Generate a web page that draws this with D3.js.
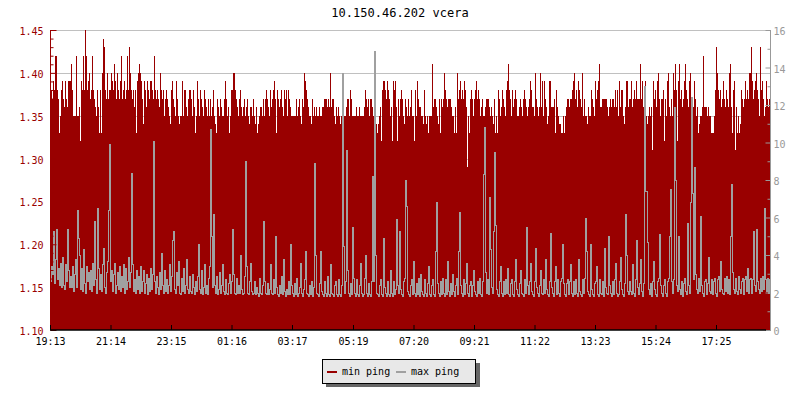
<!DOCTYPE html>
<html><head><meta charset="utf-8">
<script src="https://cdn.jsdelivr.net/npm/d3@7"></script>
<style>body{margin:0;background:#fff}svg{display:block}</style>
</head><body><svg id="c" width="800" height="400"></svg>
<script>
const title = "10.150.46.202 vcera";
const startTime = "2000-01-01T19:13:00";
const stepMinutes = 2;
const xTickLabels = ["19:13","21:14","23:15","01:16","03:17","05:19","07:20","09:21","11:22","13:23","15:24","17:25"];
const leftTicks = [1.10,1.15,1.20,1.25,1.30,1.35,1.40,1.45];
const leftMinorTicks = [1.11,1.12,1.13,1.14,1.16,1.17,1.18,1.19,1.21,1.22,1.23,1.24,1.26,1.27,1.28,1.29,1.31,1.32,1.33,1.34,1.36,1.37,1.38,1.39,1.41,1.42,1.43,1.44];
const rightTicks = [0,2,4,6,8,10,12,14,16];
const rightMinorTicks = [1,3,5,7,9,11,13,15];
const seriesNames = ["min ping","max ping"];

const minPing = [
1.36,1.38,1.37,1.39,1.38,1.42,1.42,1.38,1.37,1.33,1.35,1.38,1.39,1.37,1.36,1.39,1.37,1.36,1.39,1.39,
1.39,1.41,1.38,1.35,1.35,1.35,1.42,1.35,1.35,1.36,1.32,1.39,1.38,1.42,1.38,1.45,1.42,1.38,1.39,1.40,
1.37,1.38,1.42,1.38,1.37,1.36,1.35,1.38,1.36,1.33,1.38,1.33,1.40,1.44,1.43,1.38,1.37,1.40,1.37,1.38,
1.38,1.40,1.39,1.38,1.41,1.39,1.37,1.40,1.38,1.37,1.39,1.42,1.37,1.38,1.39,1.37,1.38,1.42,1.38,1.43,
1.40,1.38,1.37,1.38,1.36,1.38,1.33,1.39,1.40,1.41,1.40,1.39,1.37,1.34,1.39,1.38,1.36,1.39,1.38,1.37,
1.39,1.39,1.38,1.37,1.42,1.38,1.37,1.38,1.37,1.36,1.40,1.38,1.37,1.38,1.35,1.37,1.38,1.37,1.36,1.35,
1.34,1.38,1.39,1.37,1.36,1.35,1.39,1.37,1.35,1.34,1.35,1.35,1.39,1.35,1.38,1.38,1.36,1.35,1.37,1.38,
1.38,1.37,1.35,1.38,1.36,1.33,1.35,1.39,1.37,1.35,1.38,1.37,1.36,1.35,1.38,1.37,1.36,1.35,1.37,1.35,
1.37,1.35,1.36,1.38,1.35,1.34,1.33,1.37,1.36,1.35,1.37,1.36,1.35,1.35,1.37,1.39,1.37,1.35,1.36,1.33,
1.35,1.38,1.38,1.40,1.40,1.38,1.37,1.36,1.35,1.37,1.38,1.36,1.35,1.36,1.37,1.35,1.36,1.37,1.35,1.34,
1.36,1.36,1.35,1.37,1.35,1.34,1.36,1.33,1.34,1.35,1.36,1.36,1.35,1.37,1.35,1.37,1.38,1.37,1.36,1.35,
1.38,1.36,1.37,1.38,1.39,1.37,1.33,1.38,1.37,1.36,1.37,1.38,1.36,1.35,1.38,1.37,1.38,1.35,1.38,1.37,
1.36,1.35,1.35,1.35,1.35,1.35,1.37,1.35,1.36,1.37,1.35,1.34,1.37,1.36,1.40,1.39,1.38,1.37,1.36,1.35,
1.35,1.34,1.37,1.35,1.36,1.35,1.36,1.35,1.35,1.36,1.35,1.35,1.36,1.36,1.37,1.37,1.37,1.36,1.37,1.36,
1.40,1.36,1.37,1.37,1.35,1.34,1.36,1.35,1.36,1.35,1.34,1.35,1.32,1.35,1.35,1.35,1.36,1.37,1.37,1.35,
1.38,1.37,1.35,1.35,1.35,1.35,1.36,1.35,1.35,1.36,1.35,1.35,1.35,1.35,1.36,1.38,1.37,1.36,1.37,1.35,
1.37,1.37,1.36,1.35,1.36,1.35,1.34,1.33,1.34,1.35,1.36,1.32,1.38,1.39,1.39,1.38,1.37,1.39,1.38,1.37,
1.35,1.36,1.32,1.39,1.38,1.39,1.36,1.32,1.37,1.35,1.37,1.38,1.37,1.35,1.34,1.37,1.36,1.35,1.37,1.35,
1.36,1.38,1.35,1.35,1.32,1.38,1.35,1.39,1.37,1.36,1.36,1.35,1.35,1.34,1.38,1.35,1.34,1.35,1.33,1.35,
1.35,1.35,1.41,1.36,1.37,1.37,1.36,1.35,1.34,1.37,1.33,1.37,1.36,1.37,1.40,1.38,1.37,1.36,1.37,1.37,
1.37,1.36,1.35,1.35,1.33,1.36,1.33,1.40,1.37,1.38,1.39,1.37,1.38,1.37,1.39,1.38,1.36,1.29,1.35,1.33,
1.37,1.38,1.37,1.35,1.37,1.38,1.39,1.37,1.38,1.37,1.35,1.36,1.37,1.35,1.35,1.36,1.37,1.37,1.37,1.36,
1.35,1.36,1.35,1.34,1.37,1.33,1.35,1.33,1.38,1.37,1.35,1.36,1.38,1.37,1.36,1.35,1.38,1.39,1.41,1.38,
1.37,1.35,1.38,1.36,1.37,1.38,1.37,1.35,1.35,1.36,1.37,1.36,1.35,1.37,1.38,1.37,1.36,1.35,1.36,1.37,
1.39,1.38,1.36,1.36,1.35,1.40,1.37,1.36,1.35,1.36,1.40,1.36,1.39,1.35,1.39,1.37,1.36,1.34,1.35,1.39,
1.39,1.36,1.36,1.36,1.37,1.33,1.38,1.36,1.35,1.34,1.34,1.33,1.33,1.35,1.33,1.35,1.36,1.37,1.37,1.36,
1.37,1.37,1.38,1.39,1.40,1.37,1.38,1.36,1.39,1.38,1.37,1.36,1.40,1.35,1.37,1.35,1.35,1.34,1.36,1.35,
1.35,1.38,1.37,1.36,1.35,1.39,1.37,1.38,1.39,1.41,1.36,1.36,1.37,1.37,1.37,1.37,1.37,1.36,1.35,1.36,
1.37,1.36,1.37,1.37,1.36,1.38,1.36,1.38,1.35,1.39,1.36,1.38,1.38,1.35,1.34,1.36,1.39,1.39,1.36,1.37,
1.37,1.39,1.36,1.37,1.38,1.37,1.39,1.37,1.37,1.37,1.41,1.37,1.39,1.36,1.35,1.39,1.35,1.34,1.35,1.36,
1.35,1.36,1.31,1.39,1.37,1.38,1.36,1.39,1.40,1.37,1.35,1.37,1.37,1.38,1.32,1.37,1.35,1.39,1.40,1.36,
1.35,1.37,1.35,1.40,1.38,1.41,1.38,1.32,1.39,1.41,1.37,1.38,1.36,1.37,1.39,1.41,1.38,1.37,1.36,1.39,
1.40,1.37,1.35,1.36,1.39,1.37,1.35,1.36,1.33,1.34,1.35,1.35,1.36,1.42,1.36,1.36,1.36,1.35,1.36,1.35,
1.35,1.33,1.33,1.33,1.35,1.38,1.43,1.40,1.38,1.37,1.38,1.36,1.37,1.39,1.37,1.36,1.38,1.37,1.36,1.40,
1.41,1.36,1.33,1.38,1.39,1.31,1.36,1.33,1.35,1.33,1.34,1.38,1.37,1.36,1.37,1.39,1.37,1.38,1.37,1.40,
1.40,1.43,1.39,1.37,1.38,1.39,1.40,1.38,1.37,1.35,1.43,1.38,1.39,1.37,1.35,1.36,1.39,1.37,1.36,1.37
];

const maxPing = [
2.6,3.4,3.0,5.3,2.5,3.8,5.4,2.7,3.3,2.4,3.6,2.3,3.9,2.4,2.2,3.5,2.6,5.4,3.2,2.3,
2.9,2.3,3.4,2.1,3.0,3.8,2.3,6.4,4.9,4.0,2.2,3.3,2.1,4.3,2.5,2.0,3.4,2.6,3.1,2.2,
3.2,2.1,3.6,2.4,5.8,2.7,2.0,6.5,3.3,2.2,3.0,2.1,3.5,4.4,2.3,2.0,3.1,3.7,6.4,9.9,
2.6,3.2,2.1,3.0,3.6,2.0,2.4,3.1,2.2,3.4,2.1,2.9,2.3,3.5,2.0,3.3,2.2,2.6,3.9,2.3,
3.1,8.4,3.5,2.1,2.7,2.0,3.2,2.2,2.9,2.0,3.4,2.1,2.6,3.2,2.0,2.5,3.0,1.9,2.8,2.1,
3.3,2.2,3.0,10.1,2.6,2.0,2.9,2.3,1.9,3.1,2.2,4.1,2.4,2.0,3.2,2.1,2.7,2.0,2.4,3.5,
2.1,2.9,4.8,5.3,2.2,2.0,3.1,2.4,3.7,2.0,1.9,2.8,2.1,3.3,2.0,2.4,3.8,2.2,2.0,2.9,
2.1,2.0,3.0,2.3,1.9,2.6,2.1,2.9,4.6,2.2,2.0,3.2,1.9,2.3,3.5,2.0,2.4,1.9,2.8,3.4,
10.7,5.0,2.3,6.2,2.4,2.0,2.9,1.9,2.2,3.1,2.0,2.4,3.5,2.1,1.9,2.7,2.0,1.9,2.5,3.0,
2.0,2.6,5.4,3.0,2.0,1.9,2.8,2.0,2.4,2.0,4.0,2.2,1.9,2.0,2.9,9.0,3.4,2.0,1.9,2.6,
3.6,2.1,1.9,2.0,2.6,1.9,2.3,2.0,1.8,2.8,2.0,1.9,2.4,5.8,2.6,2.0,1.9,2.5,1.9,2.2,
3.5,2.0,1.9,2.7,2.0,5.0,2.3,1.9,1.8,2.4,2.0,2.9,1.9,3.8,2.1,1.8,2.2,1.9,2.6,1.9,
4.6,2.4,2.0,1.8,2.5,1.9,2.8,1.8,2.0,2.3,3.6,2.0,1.8,2.2,2.7,4.2,2.0,1.9,1.8,2.4,
1.9,2.6,1.8,2.3,8.9,4.0,2.0,1.9,1.8,2.5,4.2,2.1,1.9,1.8,2.6,2.0,1.8,2.9,1.9,1.8,
3.5,2.0,1.9,1.8,2.4,2.6,1.9,1.8,2.7,1.9,1.8,2.4,13.7,4.5,2.0,2.6,9.6,3.2,2.0,1.8,
2.5,1.9,5.5,2.8,2.0,1.8,2.7,1.9,1.8,2.4,3.6,2.0,1.8,1.9,2.8,4.0,2.0,1.8,2.5,1.9,
1.8,2.6,8.2,2.6,14.9,4.0,2.0,1.9,1.8,2.4,2.7,1.9,1.8,4.9,2.3,2.0,1.8,2.6,1.9,1.8,
3.2,2.0,1.8,2.6,1.9,2.2,5.9,2.4,2.0,5.3,2.2,1.9,1.8,2.6,2.8,8.0,6.6,2.1,1.9,1.8,
2.4,2.7,1.9,3.7,2.0,1.8,2.5,1.9,2.8,1.8,3.0,2.1,1.9,1.8,2.7,2.0,1.8,2.5,3.4,1.9,
1.8,2.4,2.7,1.9,1.8,4.2,6.8,2.5,2.0,1.8,2.6,1.9,2.8,2.0,1.8,2.7,1.9,3.7,2.1,1.8,
2.5,1.9,3.0,2.1,1.8,2.4,2.8,1.9,4.2,6.3,2.4,2.0,1.8,2.7,1.9,2.5,3.6,2.0,1.8,2.4,
2.6,1.8,2.4,3.2,2.1,1.9,1.8,2.6,2.0,2.8,1.9,1.8,2.6,8.3,10.8,3.1,2.0,2.7,1.9,7.1,
4.3,2.3,2.0,5.3,9.5,5.6,2.2,1.9,1.8,2.6,3.4,2.0,1.8,2.6,1.9,2.7,2.0,3.3,1.9,1.8,
2.5,2.7,1.9,1.8,2.6,3.8,2.2,1.9,1.8,2.5,3.2,2.0,1.9,1.8,2.7,2.0,5.5,2.4,1.9,2.6,
3.6,2.1,1.9,1.8,2.6,4.4,2.3,2.0,1.8,2.4,3.2,2.0,1.9,2.7,2.0,3.8,2.2,1.9,1.8,2.6,
5.2,2.3,2.0,1.8,2.6,3.4,1.9,2.7,2.0,1.8,2.6,2.8,4.6,2.5,1.9,1.8,2.5,2.7,1.9,2.6,
3.5,2.0,1.8,2.6,1.9,2.7,2.0,1.8,3.8,2.1,1.9,1.8,2.7,2.0,2.8,6.0,4.2,2.1,1.9,1.8,
4.6,2.2,1.9,1.8,2.5,2.6,3.4,1.9,1.8,2.7,2.0,1.9,2.6,1.8,4.4,2.3,2.0,1.9,5.0,2.4,
2.0,1.8,2.6,1.9,2.7,3.6,2.0,1.8,1.9,2.6,3.9,2.2,1.9,1.8,2.5,6.2,4.0,2.1,1.9,2.6,
2.1,1.9,3.5,2.0,1.8,2.7,4.8,2.3,1.9,2.5,3.8,2.1,1.8,2.5,13.0,7.4,7.4,4.7,2.2,1.9,
2.5,1.8,2.6,3.7,2.2,1.9,1.8,2.6,2.8,5.1,2.4,2.0,1.8,2.4,2.7,2.0,1.8,2.6,2.8,5.0,
7.5,2.6,2.0,2.7,11.9,8.0,2.4,2.1,5.0,2.2,1.9,2.6,1.8,2.5,2.8,2.1,1.9,5.7,2.4,2.0,
6.8,12.4,7.3,2.7,8.7,3.0,2.2,2.0,2.8,2.1,6.1,2.4,2.0,1.8,2.6,2.7,1.9,2.5,3.9,2.1,
2.0,2.7,1.9,2.6,2.8,2.0,1.8,2.7,2.9,2.1,3.7,2.2,2.0,1.9,2.8,2.1,2.9,2.0,2.7,1.9,
5.0,7.8,3.1,2.2,2.0,2.8,2.1,1.9,2.9,2.2,2.0,2.6,2.8,1.9,2.7,2.9,2.1,3.3,2.0,2.7,
2.8,2.0,2.7,5.3,2.4,2.1,5.4,2.6,2.2,2.0,2.8,2.1,2.9,2.2,6.5,2.7,2.1,2.8,2.0,2.7
];

const RED = "#990000", GRAY = "#a0a0a0", FONT = "'DejaVu Sans Mono', monospace";
const L = 50, R = 770, T = 30, B = 330;
const svg = d3.select("#c");
svg.append("rect").attr("width",800).attr("height",400).attr("fill","#fff");

const t0 = new Date(startTime);
const times = minPing.map((_, i) => d3.timeMinute.offset(t0, i * stepMinutes));
const tEnd = d3.timeMinute.offset(t0, minPing.length * stepMinutes);
const x = d3.scaleTime().domain([t0, tEnd]).range([L, R]);
const yL = d3.scaleLinear().domain([leftTicks[0], leftTicks[leftTicks.length-1]]).range([B, T]);
const yR = d3.scaleLinear().domain([rightTicks[0], rightTicks[rightTicks.length-1]]).range([B, T]);
const tickTimes = xTickLabels.map(s => {
  const [h, m] = s.split(":").map(Number);
  let d = new Date(t0); d.setHours(h, m, 0, 0);
  if (d < t0) d = d3.timeDay.offset(d, 1);
  return d;
});

// title
svg.append("text").attr("x", 400).attr("y", 17).attr("text-anchor","middle")
  .attr("font-family", FONT).attr("font-size", 12).attr("fill","#000").text(title);

// gridlines
svg.append("g").selectAll("line").data(leftTicks.slice(1)).join("line")
  .attr("x1", L).attr("x2", R).attr("y1", d => Math.round(yL(d)) + 0.5).attr("y2", d => Math.round(yL(d)) + 0.5)
  .attr("stroke", "#c0c0c0").attr("stroke-width", 1);

// min ping bars
svg.append("g").attr("shape-rendering","crispEdges").selectAll("rect").data(minPing).join("rect")
  .attr("x", (d, i) => x(times[i]))
  .attr("width", (d, i) => x(d3.timeMinute.offset(times[i], stepMinutes)) - x(times[i]))
  .attr("y", d => yL(d)).attr("height", d => B - yL(d)).attr("fill", RED);

// max ping line (vertical runs inside each pixel column)
const line = d3.line().x((d, i) => x(times[i]) + 0.5).y(d => Math.round(yR(d)) + 0.5).curve(d3.curveStepAfter);
svg.append("path").datum(maxPing).attr("d", line).attr("fill","none")
  .attr("stroke", GRAY).attr("stroke-width", 1).attr("stroke-linecap","square").attr("shape-rendering","crispEdges");

function styleAxis(g, color) {
  g.attr("font-family", FONT).attr("font-size", 10);
  g.select(".domain").remove();
  g.selectAll(".tick line").attr("stroke", color);
  g.selectAll(".tick text").attr("fill", color);
}
// left axis
const gl = svg.append("g").attr("transform", `translate(${L + 0.5},0)`)
  .call(d3.axisLeft(yL).tickValues(leftTicks).tickSize(-6).tickPadding(7).tickFormat(d3.format(".2f")));
styleAxis(gl, RED);
gl.selectAll(".tick text").attr("dy", "0.45em");
const glm = svg.append("g").attr("transform", `translate(${L + 0.5},0)`)
  .call(d3.axisLeft(yL).tickValues(leftMinorTicks).tickSize(-3).tickFormat(""));
styleAxis(glm, RED);
svg.append("line").attr("x1", L + 0.5).attr("x2", L + 0.5).attr("y1", T).attr("y2", B).attr("stroke", RED);

// right axis
const gr = svg.append("g").attr("transform", `translate(${R + 0.5},0)`)
  .call(d3.axisRight(yR).tickValues(rightTicks).tickSize(-5).tickPadding(3).tickFormat(d3.format("d")));
styleAxis(gr, "#999");
gr.selectAll(".tick text").attr("dy", "0.45em");
const grm = svg.append("g").attr("transform", `translate(${R + 0.5},0)`)
  .call(d3.axisRight(yR).tickValues(rightMinorTicks).tickSize(-3).tickFormat(""));
styleAxis(grm, "#999");
svg.append("line").attr("x1", R + 0.5).attr("x2", R + 0.5).attr("y1", T).attr("y2", B + 1).attr("stroke", "#999");

// bottom axis
const gb = svg.append("g").attr("transform", `translate(0,${B})`)
  .call(d3.axisBottom(x).tickValues(tickTimes).tickSize(-5).tickPadding(8).tickFormat((d, i) => xTickLabels[i]));
styleAxis(gb, "#000");
svg.append("line").attr("x1", L).attr("x2", R - 4).attr("y1", B).attr("y2", B).attr("stroke", "#000").attr("stroke-width", 1.6);

// legend
const lg = svg.append("g");
lg.append("rect").attr("x", 326).attr("y", 363).attr("width", 154).attr("height", 24).attr("fill", "#666");
lg.append("rect").attr("x", 322.5).attr("y", 359.5).attr("width", 153).attr("height", 24).attr("fill", "#e8e8e8").attr("stroke", "#000");
const legendX = [327, 396];
const legendColors = [RED, GRAY];
seriesNames.forEach((name, i) => {
  lg.append("rect").attr("x", legendX[i]).attr("y", 371).attr("width", 10).attr("height", 2).attr("fill", legendColors[i]);
  lg.append("text").attr("x", legendX[i] + 15).attr("y", 375).attr("font-family", FONT).attr("font-size", 10)
    .attr("fill", "#000").text(name);
});
</script>
</body></html>
